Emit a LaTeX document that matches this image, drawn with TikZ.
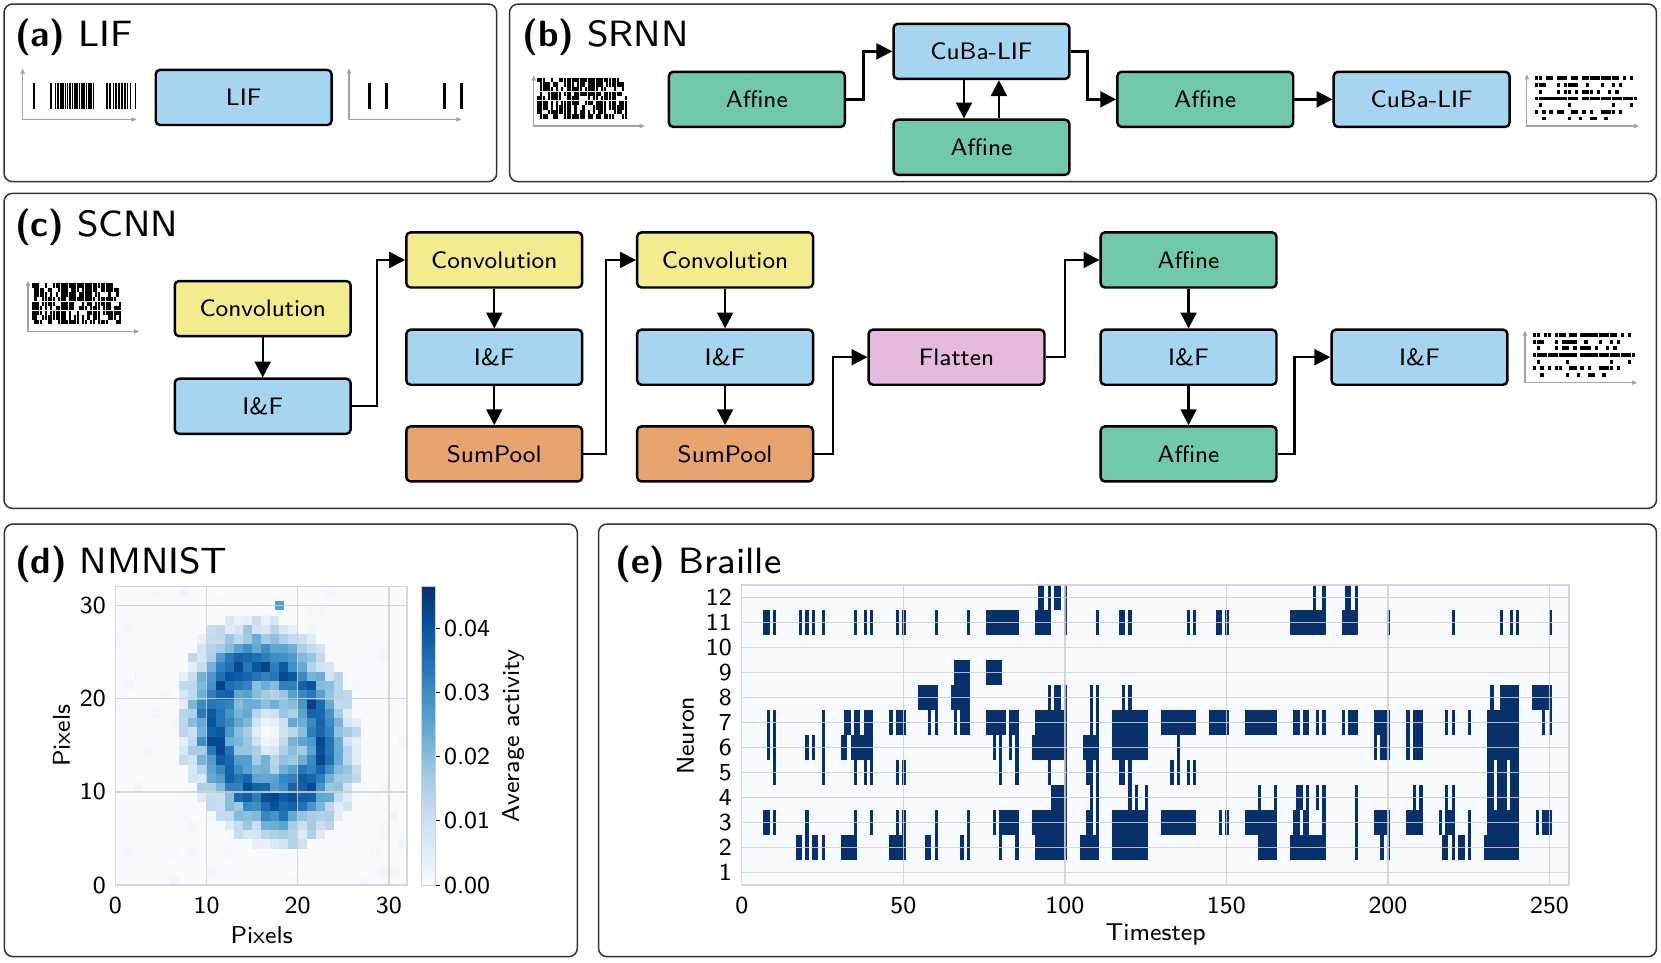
\documentclass[tikz,border=0pt]{standalone}
\usepackage{fontspec}
\setsansfont{lmsans8-regular.otf}[BoldFont=lmsans10-bold.otf]
\usetikzlibrary{arrows.meta}
\renewcommand{\familydefault}{\sfdefault}

\definecolor{lifblue}{HTML}{A6D5F2}
\definecolor{affgreen}{HTML}{70C9AC}
\definecolor{convyellow}{HTML}{F3EC8E}
\definecolor{poolorange}{HTML}{E8A46F}
\definecolor{flatpink}{HTML}{E5BADC}
\definecolor{framegray}{HTML}{333333}
\definecolor{axisgray}{HTML}{A3A3A3}
\definecolor{gridgray}{HTML}{D0D0D0}
\definecolor{blues0}{HTML}{F7FBFF}
\definecolor{blues1}{HTML}{DEEBF7}
\definecolor{blues2}{HTML}{C6DBEF}
\definecolor{blues3}{HTML}{9ECAE1}
\definecolor{blues4}{HTML}{6BAED6}
\definecolor{blues5}{HTML}{4292C6}
\definecolor{blues6}{HTML}{2171B5}
\definecolor{blues7}{HTML}{08519C}
\definecolor{blues8}{HTML}{08306B}

\tikzset{
  panel/.style={draw=framegray, line width=1.4pt, rounded corners=8pt},
  paneltitle/.style={anchor=base west, inner sep=0pt, font=\fontsize{34.5}{40}\selectfont},
  layer/.style={draw, line width=2.3pt, rounded corners=4pt, minimum width=166pt,
    minimum height=52pt, inner sep=0pt, font=\fontsize{22.5}{27}\selectfont},
  lif/.style={layer, fill=lifblue},
  affine/.style={layer, fill=affgreen},
  conv/.style={layer, fill=convyellow},
  pool/.style={layer, fill=poolorange},
  flat/.style={layer, fill=flatpink},
  flow/.style={line width=2.2pt, -{Triangle[length=15pt,width=15pt]}},
  rasteraxis/.style={draw=axisgray, line width=1.1pt,
    {Triangle[length=5pt,width=4pt]}-{Triangle[length=5pt,width=4pt]}},
  ticklabel/.style={inner sep=0pt, font=\fontsize{23}{27}\selectfont},
  gridline/.style={draw=gridgray, line width=1.4pt, opacity=.85},
  spike/.style={fill=blues8},
}

% colour of one heat map cell (Blues map, 0 .. 0.0465)
\newcommand\pickblue[1]{%
  \pgfmathsetmacro\cellt{8*min(0.9999,max(0,#1/0.0465))}%
  \pgfmathtruncatemacro\cellk{\cellt}%
  \pgfmathtruncatemacro\cellkk{\cellk+1}%
  \pgfmathsetmacro\cellp{100*(\cellt-\cellk)}%
  \colorlet{cellc}{blues\cellkk!\cellp!blues\cellk}}

% input spike raster, #1 = corner of the axes
\newcommand\inraster[1]{%
  \begin{scope}[shift={#1}]
    \draw[rasteraxis] (0,-48) -- (0,0) -- (105,0);
    \pgfmathsetseed{1234}
    \foreach \r in {0,...,8}{
      \foreach \c in {0,...,33}{
        \pgfmathtruncatemacro\spk{rnd<0.72}
        \ifnum\spk=1 \fill (3.5+2.5*\c,-45.5+4.3*\r) rectangle +(2.1,4.1);\fi
      }
    }
  \end{scope}}

% output spike raster, #1 = corner of the axes
\newcommand\outraster[1]{%
  \begin{scope}[shift={#1}]
    \draw[rasteraxis] (0,-49) -- (0,0) -- (106,0);
    \foreach \r/\cols in {0/{0,1,3,4,6,7,8,10,11,13,14,15,16,17,18,19,20,21,22,24,26},
                          1/{0,1,2,6,8,9,10,11,14,18,21,23},
                          2/{1,6,8,9,11,13,14,15,17,20,22},
                          3/{0,1,2,3,4,5,6,7,8,9,10,11,13,14,15,16,17,18,19,20,21,22,23,24,25,26,27},
                          4/{1,9,21,26},
                          5/{0,2,4,6,7,10,11,13,15,18,19,20,21,23},
                          6/{2,9,12,15,16,19}}{
      \foreach \c in \cols {\fill (7.5+3.45*\c,-46.8+6.3*\r) rectangle +(3.2,3.6);}
    }
  \end{scope}}

% one neuron row of the Braille raster
\newcommand\spikerow[2]{%
  \foreach \a/\b in {#2} \fill[spike] (\a-0.3,#1-0.5) rectangle (\b+0.7,#1+0.5);}

\begin{document}
\begin{tikzpicture}[x=1pt,y=-1pt]

  \useasboundingbox (0,0) rectangle (1568,909);

  % Panels
  \draw[panel] (3.8,3.8) rectangle (468.9,171.5);
  \draw[panel] (481,3.8) rectangle (1563.7,171.5);
  \draw[panel] (3.8,182.5) rectangle (1563.7,479.9);
  \draw[panel] (4.2,494.7) rectangle (545,903.1);
  \draw[panel] (565,494.7) rectangle (1563.7,903.1);

  % (a) LIF
  \node[paneltitle] (ta) at (14,44) {\textbf{(a)} LIF};
  \node[lif] (lifa) at (230,92) {LIF};
  \draw[rasteraxis] (21.4,64.5) -- (21.4,112.7) -- (129,112.7);
  \foreach \x in {31.5,47.2,51.5,54.2,56.6,58.9,61.0,63.0,65.3,67.6,69.8,72.0,
                  74.2,76.4,78.6,80.8,83.0,85.2,87.5,100.3,103.2,106.3,
                  109.0,111.8,114.4,117.0,119.8,122.6,127.0}
    \fill (\x,78.7) rectangle +(1.5,24.2);
  \draw[rasteraxis] (329.5,64.5) -- (329.5,112.7) -- (435.8,112.7);
  \foreach \x in {347,363.4,417.9,434.2}
    \fill (\x,78.7) rectangle +(3.3,24.2);

  % (b) SRNN
  \node[paneltitle] (tb) at (493,44) {\textbf{(b)} SRNN};
  \inraster{(503.8,119)}
  \node[affine] (aff1) at (714.5,93.8) {Affine};
  \node[lif] (cuba1) at (926.5,48.5) {CuBa-LIF};
  \node[affine] (aff2) at (926.5,139) {Affine};
  \node[affine] (aff3) at (1137.8,93.8) {Affine};
  \node[lif] (cuba2) at (1342,93.8) {CuBa-LIF};
  \outraster{(1441.4,119)}

  \draw[flow] (aff1.east) -- ++(16.5,0) |- (cuba1.west);
  \draw[flow] ([xshift=-16.5pt]cuba1.south) -- ([xshift=-16.5pt]aff2.north);
  \draw[flow] ([xshift=16.5pt]aff2.north) -- ([xshift=16.5pt]cuba1.south);
  \draw[flow] (cuba1.east) -- ++(16,0) |- (aff3.west);
  \draw[flow] (aff3) -- (cuba2);

  % (c) SCNN
  \node[paneltitle] (tc) at (14,223.4) {\textbf{(c)} SCNN};
  \inraster{(26.4,313)}
  \node[conv] (conv1) at (248,291.3) {Convolution};
  \node[lif] (if1) at (248,383.5) {I\&F};
  \node[conv] (conv2) at (466.6,245.4) {Convolution};
  \node[lif] (if2) at (466.6,337.2) {I\&F};
  \node[pool] (pool2) at (466.6,428.5) {SumPool};
  \node[conv] (conv3) at (684.5,245.4) {Convolution};
  \node[lif] (if3) at (684.5,337.2) {I\&F};
  \node[pool] (pool3) at (684.5,428.5) {SumPool};
  \node[flat] (flat) at (903,337.2) {Flatten};
  \node[affine] (aff4) at (1122,245.4) {Affine};
  \node[lif] (if4) at (1122,337.2) {I\&F};
  \node[affine] (aff5) at (1122,428.5) {Affine};
  \node[lif] (if5) at (1340,337.2) {I\&F};
  \outraster{(1439.6,361.2)}

  \draw[flow] (conv1) -- (if1);
  \draw[flow] (if1.east) -- ++(23.5,0) |- (conv2.west);
  \draw[flow] (conv2) -- (if2);
  \draw[flow] (if2) -- (pool2);
  \draw[flow] (pool2.east) -- ++(21.5,0) |- (conv3.west);
  \draw[flow] (conv3) -- (if3);
  \draw[flow] (if3) -- (pool3);
  \draw[flow] (pool3.east) -- ++(18,0) |- (flat.west);
  \draw[flow] (flat.east) -- ++(18,0) |- (aff4.west);
  \draw[flow] (aff4) -- (if4);
  \draw[flow] (if4) -- (aff5);
  \draw[flow] (aff5.east) -- ++(16,0) |- (if5.west);

  % (d) NMNIST
  \node[paneltitle] (td) at (14,541.3) {\textbf{(d)} NMNIST};
  \begin{scope}[shift={(109pt,-835.5pt)}, x=8.6pt, y=8.8pt]
    \pgfmathsetseed{31}
    \foreach \i in {0,...,31}{
      \foreach \j in {0,...,31}{
        \pgfmathsetmacro\uu{(\i-16.3+0.13*(\j-16))/10}
        \pgfmathsetmacro\vv{(\j-16)/12.6}
        \pgfmathsetmacro\rr{sqrt(\uu*\uu+\vv*\vv)}
        \pgfmathsetmacro\dd{(\rr-0.6)/0.19}
        \pgfmathsetmacro\act{\rr<1 ? max(0,(0.007+0.013*(1-\rr)+0.025*exp(-\dd*\dd)+0.012*(rnd-0.4))*min(1,\rr*\rr/0.06)) : (rnd<0.08 ? 0.002*rnd : 0)}
        \pickblue{\act}
        \fill[cellc, draw=cellc, line width=0.2pt] (\i,\j) rectangle +(1,1);
      }
    }
    \pickblue{0.026}
    \fill[cellc] (17.5,29.5) rectangle +(1,1);
    % grid
    \foreach \v in {10,20,30}{
      \draw[gridline] (\v,0) -- (\v,32);
      \draw[gridline] (0,\v) -- (32,\v);
    }
    \draw[gridline] (0,0) rectangle (32,32);
  \end{scope}
  \foreach \v in {0,10,20,30}{
    \node[ticklabel, anchor=north] (dx\v) at ({109+8.6*\v},846.5) {\v};
    \node[ticklabel, anchor=east] (dy\v) at (100,{835.5-8.8*\v}) {\v};
  }
  \node[ticklabel, anchor=base] (dxl) at (247,891) {Pixels};
  \node[ticklabel, anchor=base, rotate=90] (dyl) at (66,694.6) {Pixels};

  % colour bar
  \foreach \k [evaluate=\k as \kk using int(\k+1)] in {0,...,7}
    \shade[bottom color=blues\k, top color=blues\kk]
      (398.1,{835.5-35.21*\k}) rectangle (411.4,{835.5-35.21*\kk});
  \draw[gridgray, line width=0.8pt] (398.1,553.8) rectangle (411.4,835.5);
  \foreach \k in {0,...,4}{
    \draw[line width=1pt] (411.4,{835.5-60.58*\k}) -- ++(4,0);
    \node[ticklabel, anchor=west] (cb\k) at (419,{835.5-60.58*\k}) {0.0\k};
  }
  \node[ticklabel, anchor=base, rotate=90] (cbl) at (490,694.6) {Average activity};

  % (e) Braille
  \node[paneltitle] (te) at (581,541.3) {\textbf{(e)} Braille};
  \fill[blues0] (700.2,552.3) rectangle (1481,835.5);
  \begin{scope}[shift={(700.2pt,-847.3pt)}, x=3.05pt, y=23.6pt]
    \spikerow{12}{92/93,95/95,97/98,100/100,177/177,180/180,187/188,190/190}
    \spikerow{11}{7/8,10/10,18/18,20/20,22/22,25/25,35/35,38/38,40/40,48/48,50/50,
      60/60,70/70,76/85,91/95,100/100,110/110,117/118,120/120,138/138,140/140,
      147/148,150/150,170/180,186/190,200/200,220/220,235/235,238/238,240/240,250/250}
    \spikerow{9}{66/70,76/80}
    \spikerow{8}{55/60,65/70,95/95,97/98,100/100,108/108,110/110,118/118,120/120,
      232/232,235/240,245/250}
    \spikerow{7}{8/8,10/10,25/25,32/33,35/36,38/40,46/46,48/50,58/58,60/60,66/66,
      68/70,76/81,83/85,91/100,108/108,110/110,115/125,130/140,145/150,156/165,
      171/172,174/175,178/178,180/180,186/186,188/190,196/200,206/206,208/210,
      218/218,220/220,225/225,231/240,248/248,250/250}
    \spikerow{6}{8/8,10/10,20/20,22/22,25/25,31/32,34/40,78/78,80/80,83/83,85/85,
      90/100,106/110,115/125,135/135,196/196,198/200,206/206,208/210,231/240}
    \spikerow{5}{10/10,25/25,35/35,38/38,40/40,48/48,50/50,80/80,85/85,95/95,
      100/100,107/108,110/110,117/118,120/120,133/133,135/135,138/138,140/140,
      231/232,234/236,238/240}
    \spikerow{4}{96/100,108/108,110/110,120/120,122/122,125/125,160/160,165/165,
      172/173,175/175,178/178,180/180,190/190,208/208,210/210,218/218,220/220,
      231/232,234/236,238/240}
    \spikerow{3}{7/8,10/10,20/20,35/35,40/40,48/48,50/50,60/60,70/70,78/78,80/85,
      90/100,107/108,110/110,115/125,130/140,148/148,150/150,156/165,171/172,
      174/175,180/180,190/190,196/200,206/210,216/216,218/220,225/225,231/240,
      246/246,248/250}
    \spikerow{2}{17/18,20/20,22/23,25/25,31/35,46/50,57/58,60/60,68/68,70/70,80/80,
      85/85,91/100,105/110,115/125,160/165,170/180,190/190,198/198,200/200,
      217/218,220/220,222/223,225/225,230/240}
    % grid
    \foreach \n in {1,...,12} \draw[gridline] (0,\n) -- (256,\n);
    \foreach \t in {50,100,...,250} \draw[gridline] (\t,0.5) -- (\t,12.5);
    \draw[gridline] (0,0.5) rectangle (256,12.5);
  \end{scope}
  \foreach \n in {1,...,12}
    \node[ticklabel, anchor=east] (ey\n) at (691,{847.3-23.6*\n}) {\n};
  \foreach \t in {0,50,...,250}
    \node[ticklabel, anchor=north] (ex\t) at ({700.2+3.05*\t},846.5) {\t};
  \node[ticklabel, anchor=base] (exl) at (1091,888) {Timestep};
  \node[ticklabel, anchor=base, rotate=90] (eyl) at (655,694.6) {Neuron};

\end{tikzpicture}
\end{document}
